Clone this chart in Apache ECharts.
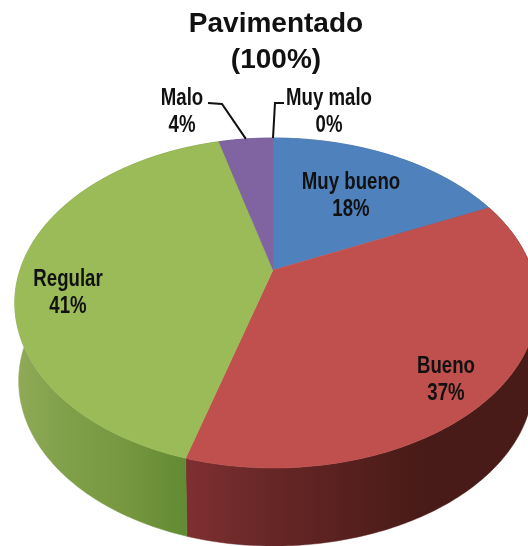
<!DOCTYPE html>
<html>
<head>
<meta charset="utf-8">
<style>html,body{margin:0;padding:0;background:#fff}#c{width:528px;height:546px}</style>
<script src="https://cdn.jsdelivr.net/npm/echarts@6/dist/echarts.min.js"></script>
</head>
<body>
<div id="c"></div>
<script>
const categories = ['Muy bueno', 'Bueno', 'Regular', 'Malo', 'Muy malo'];
const shares = [18.0, 36.5, 41.4, 4.1, 0];
const titleLines = ['Pavimentado', '(100%)'];

const topColors = ['#4f81bd', '#c0504d', '#9bbb59', '#8064a2', '#4bacc6'];
const view = { cx: 273, cy: 270, k: 0.2, a: 158.4, bLeft: 253, bRight: 259, depth: 78, baseScale: 0.985 };
const labelCentres = [[351, 196], [446, 380], [68, 293], [182, 112], [329, 112]];
const leaderPaths = { 3: [[208, 103], [222, 104]], 4: [[284, 103], [275, 103]] };

function project(deg, base) {
  const t = deg * Math.PI / 180, x = Math.sin(t), y = Math.cos(t);
  const d = 1 + view.k * y;
  const s = base ? view.baseScale : 1;
  const b = x < 0 ? view.bLeft : view.bRight;
  return [view.cx + s * b * x / d, view.cy - view.a * y / d + (base ? view.depth : 0)];
}
function arc(a0, a1, base) {
  const pts = [], n = Math.max(2, Math.ceil(a1 - a0));
  for (let i = 0; i <= n; i++) pts.push(project(a0 + (a1 - a0) * i / n, base));
  return pts;
}
const total = shares.reduce((s, v) => s + v, 0);
let acc = 0;
const sectors = shares.map((v, i) => {
  const start = acc / total * 360; acc += v;
  return [start, acc / total * 360, i];
});

const G = echarts.graphic.LinearGradient;
const wallFill = {
  0: '#3a5f8c',
  1: new G(186, 0, 420, 0, [{offset:0,color:'#7e2f31'},{offset:.45,color:'#622524'},{offset:1,color:'#491b18'}], true),
  2: new G(20, 0, 186, 0, [{offset:0,color:'#8fa956'},{offset:.3,color:'#7f9f49'},{offset:.65,color:'#76963f'},{offset:1,color:'#618b34'}], true),
  3: '#5f4a7a', 4: '#387f93'
};

function wall(params, api) {
  const a0 = api.value(0), a1 = api.value(1), i = api.value(2);
  if (a1 <= a0) return { type: 'group', children: [] };
  const pts = arc(a0, a1, false).concat(arc(a0, a1, true).reverse());
  return { type: 'polygon', shape: { points: pts }, style: { fill: wallFill[i], stroke: wallFill[i], lineWidth: .5 } };
}
function face(params, api) {
  const a0 = api.value(0), a1 = api.value(1), i = api.value(2);
  if (a1 <= a0) return { type: 'group', children: [] };
  const pts = [[view.cx, view.cy]].concat(arc(a0, a1, false));
  return { type: 'polygon', shape: { points: pts }, style: { fill: topColors[i], stroke: topColors[i], lineWidth: .5 } };
}

const graphics = [];
titleLines.forEach((t, i) => graphics.push({
  type: 'text', x: 276, y: 24 + i * 36, z: 10,
  style: { text: t, fill: '#111', font: 'bold 28px "Liberation Sans", Arial, sans-serif', align: 'center', verticalAlign: 'middle' }
}));
categories.forEach((c, i) => {
  graphics.push({
    type: 'text', x: labelCentres[i][0], y: labelCentres[i][1], z: 10, scaleX: 0.81,
    style: { text: c + '\n' + Math.round(shares[i] / total * 100) + '%', fill: '#111',
      font: 'bold 23px "Liberation Sans", sans-serif', lineHeight: 27,
      align: 'center', verticalAlign: 'middle' }
  });
  if (leaderPaths[i]) {
    const mid = (sectors[i][0] + sectors[i][1]) / 2;
    graphics.push({
      type: 'polyline', z: 10,
      shape: { points: leaderPaths[i].concat([project(mid, false)]) },
      style: { stroke: '#111', lineWidth: 2, fill: null }
    });
  }
});

const chart = echarts.init(document.getElementById('c'), null, { renderer: 'canvas' });
chart.setOption({
  animation: false,
  backgroundColor: '#fff',
  graphic: graphics,
  series: [
    { type: 'custom', coordinateSystem: 'none', renderItem: wall, data: sectors, z: 1, silent: true },
    { type: 'custom', coordinateSystem: 'none', renderItem: face, data: sectors, z: 2, silent: true }
  ]
});
</script>
</body>
</html>
